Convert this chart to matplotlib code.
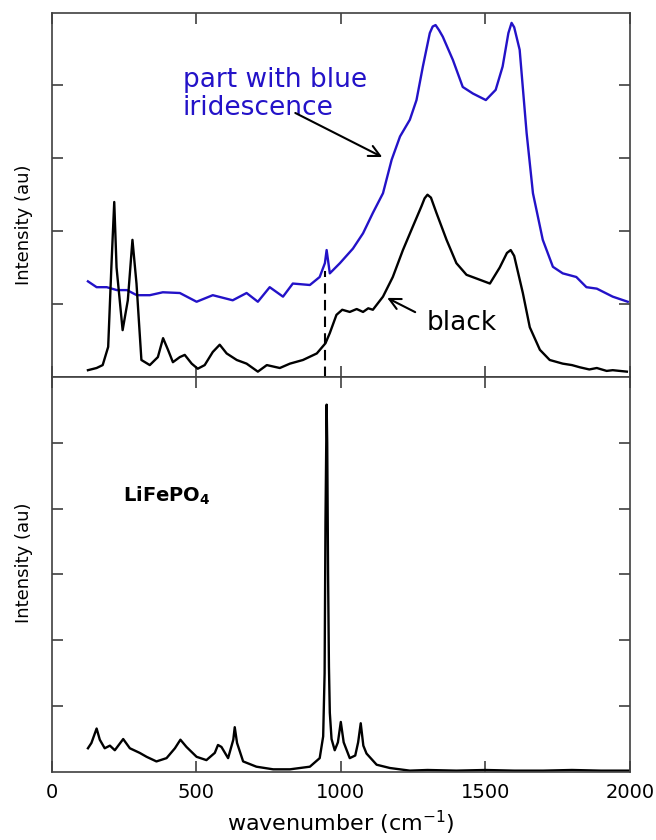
import matplotlib
matplotlib.use("Agg")
import matplotlib.pyplot as plt

# top panel: spectrum of the black part
blk_x = [125, 155, 176, 195, 206, 216, 224, 245, 263, 279, 293, 310, 339, 367, 385, 402, 419, 443,
         460, 484, 505, 529, 557, 581, 605, 640, 674, 713, 744, 789, 824, 869, 917, 947, 962, 985,
         1005, 1031, 1055, 1077, 1095, 1111, 1146, 1180, 1215, 1249, 1279, 1290, 1300, 1312, 1331,
         1366, 1400, 1435, 1469, 1516, 1550, 1575, 1588, 1600, 1630, 1654, 1689, 1723, 1768, 1800,
         1827, 1860, 1886, 1920, 1941, 1990]
blk_y = [0.09, 0.12, 0.16, 0.41, 1.5, 2.4, 1.5, 0.64, 1.05, 1.88, 1.28, 0.23, 0.16, 0.27, 0.53, 0.37,
         0.2, 0.27, 0.3, 0.18, 0.11, 0.16, 0.34, 0.44, 0.32, 0.23, 0.18, 0.07, 0.16, 0.12, 0.18, 0.23,
         0.32, 0.46, 0.6, 0.85, 0.92, 0.89, 0.93, 0.89, 0.94, 0.92, 1.1, 1.37, 1.74, 2.06, 2.34, 2.45,
         2.5, 2.46, 2.25, 1.88, 1.56, 1.40, 1.35, 1.28, 1.5, 1.70, 1.74, 1.66, 1.15, 0.68, 0.37, 0.23,
         0.18, 0.16, 0.13, 0.10, 0.12, 0.08, 0.09, 0.07]

# top panel: part with blue iridescence
blu_x = [125, 155, 190, 225, 260, 294, 339, 384, 443, 501, 557, 626, 674, 713, 754, 800, 834, 893,
         927, 945, 951, 962, 997, 1042, 1077, 1111, 1146, 1176, 1205, 1239, 1262, 1284, 1308, 1318,
         1328, 1340, 1353, 1388, 1422, 1457, 1502, 1536, 1560, 1580, 1591, 1600, 1608, 1619, 1643,
         1665, 1699, 1734, 1768, 1815, 1850, 1886, 1941, 1993]
blu_y = [1.31, 1.23, 1.23, 1.19, 1.19, 1.12, 1.12, 1.16, 1.15, 1.03, 1.12, 1.05, 1.15, 1.03, 1.23,
         1.1, 1.28, 1.26, 1.37, 1.56, 1.74, 1.42, 1.56, 1.76, 1.97, 2.25, 2.52, 2.98, 3.3, 3.53, 3.8,
         4.26, 4.72, 4.81, 4.83, 4.76, 4.67, 4.35, 3.98, 3.89, 3.8, 3.94, 4.26, 4.72, 4.86, 4.80,
         4.67, 4.49, 3.35, 2.52, 1.88, 1.51, 1.42, 1.37, 1.23, 1.21, 1.1, 1.03]

# bottom panel: LiFePO4 reference
lfp_x = [125, 137, 155, 166, 183, 201, 218, 247, 270, 304, 328, 362, 397, 426, 445, 466, 501, 535,
         564, 575, 587, 610, 628, 633, 641, 662, 708, 766, 824, 893, 927, 939, 944, 947, 951, 953,
         956, 959, 962, 968, 979, 990, 1000, 1010, 1031, 1050, 1060, 1069, 1078, 1089, 1124, 1170,
         1239, 1300, 1400, 1500, 1600, 1700, 1800, 1900, 2000]
lfp_y = [0.36, 0.44, 0.66, 0.49, 0.36, 0.40, 0.33, 0.50, 0.36, 0.29, 0.23, 0.16, 0.21, 0.36, 0.49,
         0.38, 0.23, 0.18, 0.29, 0.41, 0.38, 0.21, 0.49, 0.68, 0.44, 0.16, 0.08, 0.04, 0.04, 0.08,
         0.21, 0.54, 1.5, 3.8, 5.58, 5.0, 3.0, 1.6, 0.9, 0.5, 0.33, 0.45, 0.76, 0.45, 0.21, 0.25,
         0.45, 0.74, 0.4, 0.28, 0.11, 0.06, 0.02, 0.03, 0.02, 0.03, 0.02, 0.02, 0.03, 0.02, 0.02]

dash_x = 947
xticks = [0, 500, 1000, 1500, 2000]
blue = '#2312c8'
spine_c = '#404040'

fig = plt.figure(figsize=(6.56, 8.4), dpi=100)
ax1 = fig.add_axes([0.079, 0.5515, 0.881, 0.4334])
ax2 = fig.add_axes([0.079, 0.081, 0.881, 0.4702])

for ax in (ax1, ax2):
    ax.set_xlim(0, 2000)
    ax.set_xticks(xticks)
    ax.tick_params(direction='in', length=8, width=1.2, color=spine_c,
                   top=True, right=True, labelleft=False, labelsize=14, pad=8)
    for s in ax.spines.values():
        s.set_color(spine_c)
        s.set_linewidth(1.2)
    ax.set_ylabel('Intensity (au)', fontsize=13)

ax1.set_ylim(0, 5)
ax1.set_yticks([1, 2, 3, 4])
ax1.tick_params(labelbottom=False)
ax1.plot(blu_x, blu_y, color=blue, lw=1.7)
ax1.plot(blk_x, blk_y, color='black', lw=1.7)
ax1.plot([dash_x, dash_x], [0, 1.45], color='black', lw=1.5, ls=(0, (5, 3)))
ax1.text(453, 3.98, 'part with blue', color=blue, fontsize=19)
ax1.text(453, 3.59, 'iridescence', color=blue, fontsize=19)
ax1.annotate('', xy=(1152, 3.0), xytext=(834, 3.64),
             arrowprops=dict(arrowstyle='->', color='black', lw=1.5, mutation_scale=20))
ax1.annotate('', xy=(1152, 1.10), xytext=(1266, 0.87),
             arrowprops=dict(arrowstyle='->', color='black', lw=1.5, mutation_scale=20))
ax1.text(1298, 0.64, 'black', color='black', fontsize=19)
ax1.yaxis.set_label_coords(-0.033, 0.417)

ax2.set_ylim(0, 6)
ax2.set_yticks([1, 2, 3, 4, 5])
ax2.plot(lfp_x, lfp_y, color='black', lw=1.7)
ax2.text(245, 4.1, r'LiFePO$_\mathbf{4}$', fontsize=14, fontweight='bold')
ax2.set_xlabel(r'wavenumber (cm$^{\mathregular{-1}}$)', fontsize=16)
ax2.xaxis.set_label_coords(0.5, -0.093)
ax2.yaxis.set_label_coords(-0.033, 0.53)

fig.savefig('out.png', dpi=100)
